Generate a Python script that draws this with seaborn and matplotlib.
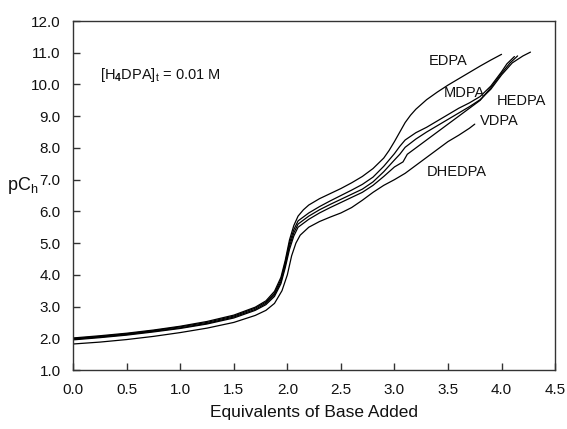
import matplotlib
matplotlib.use("Agg")
import matplotlib.pyplot as plt
import seaborn as sns
import pandas as pd

sns.set_theme(style="white")
plt.rcParams['font.family'] = ['Liberation Sans', 'DejaVu Sans']
plt.rcParams['mathtext.fontset'] = 'custom'
plt.rcParams['mathtext.rm'] = 'Liberation Sans'
plt.rcParams['mathtext.it'] = 'Liberation Sans:italic'
plt.rcParams['mathtext.bf'] = 'Liberation Sans:bold'

low_x = [0, 0.25, 0.5, 0.75, 1.0, 1.25, 1.5, 1.7, 1.8, 1.88, 1.94, 1.98, 2.02, 2.06]

edpa_x = low_x + [2.1, 2.15, 2.2, 2.3, 2.4, 2.5, 2.6, 2.7, 2.8, 2.9, 2.95, 3.0, 3.05, 3.1, 3.15, 3.2, 3.3, 3.4, 3.5, 3.6, 3.7, 3.8, 3.9, 4.0]
edpa_y = [2.01, 2.08, 2.16, 2.26, 2.38, 2.53, 2.73, 2.98, 3.18, 3.48, 3.92, 4.45, 5.1, 5.55,
          5.85, 6.05, 6.2, 6.4, 6.56, 6.72, 6.9, 7.1, 7.35, 7.68, 7.92, 8.2, 8.5, 8.8, 9.03, 9.22, 9.52, 9.76, 9.98, 10.18, 10.38, 10.58, 10.77, 10.95]

mdpa_x = low_x + [2.1, 2.2, 2.3, 2.4, 2.5, 2.6, 2.7, 2.8, 2.9, 3.0, 3.05, 3.1, 3.2, 3.3, 3.4, 3.5, 3.6, 3.7, 3.8, 3.9, 4.0, 4.05, 4.12]
mdpa_y = [1.99, 2.06, 2.14, 2.24, 2.36, 2.5, 2.7, 2.95, 3.14, 3.42, 3.85, 4.38, 5.0, 5.42,
          5.7, 5.95, 6.15, 6.33, 6.5, 6.67, 6.85, 7.08, 7.42, 7.82, 8.05, 8.25, 8.48, 8.65, 8.85, 9.05, 9.25, 9.42, 9.62, 9.95, 10.4, 10.65, 10.88]

hedpa_x = low_x + [2.1, 2.2, 2.3, 2.4, 2.5, 2.6, 2.7, 2.8, 2.9, 3.0, 3.05, 3.1, 3.2, 3.3, 3.4, 3.5, 3.6, 3.7, 3.8, 3.9, 4.0, 4.1, 4.2, 4.27]
hedpa_y = [1.97, 2.04, 2.12, 2.22, 2.33, 2.47, 2.67, 2.91, 3.1, 3.37, 3.78, 4.3, 4.9, 5.32,
           5.6, 5.85, 6.05, 6.22, 6.38, 6.54, 6.7, 6.93, 7.25, 7.62, 7.8, 8.02, 8.28, 8.5, 8.7, 8.9, 9.1, 9.3, 9.52, 9.85, 10.3, 10.68, 10.9, 11.02]

vdpa_x = low_x + [2.1, 2.2, 2.3, 2.4, 2.5, 2.6, 2.7, 2.8, 2.9, 3.0, 3.08, 3.12, 3.2, 3.3, 3.4, 3.5, 3.6, 3.7, 3.8, 3.9, 4.0, 4.08, 4.15]
vdpa_y = [1.95, 2.02, 2.1, 2.2, 2.31, 2.45, 2.64, 2.88, 3.06, 3.32, 3.72, 4.22, 4.8, 5.22,
          5.5, 5.75, 5.95, 6.12, 6.28, 6.44, 6.6, 6.82, 7.1, 7.4, 7.56, 7.8, 8.0, 8.25, 8.5, 8.75, 9.0, 9.25, 9.5, 9.9, 10.35, 10.68, 10.9]

dhedpa_x = [0, 0.25, 0.5, 0.75, 1.0, 1.25, 1.5, 1.7, 1.8, 1.88, 1.95, 2.0, 2.04, 2.08, 2.12, 2.2, 2.3, 2.4, 2.5, 2.6, 2.7, 2.8, 2.9, 3.0, 3.1, 3.2, 3.3, 3.4, 3.5, 3.6, 3.7, 3.75]
dhedpa_y = [1.82, 1.88, 1.96, 2.06, 2.18, 2.32, 2.5, 2.72, 2.88, 3.1, 3.5, 4.0, 4.6, 5.0, 5.25, 5.5, 5.68, 5.82, 5.95, 6.12, 6.35, 6.6, 6.82, 7.0, 7.2, 7.45, 7.7, 7.95, 8.2, 8.4, 8.62, 8.75]

series = {
    "EDPA": (edpa_x, edpa_y),
    "MDPA": (mdpa_x, mdpa_y),
    "HEDPA": (hedpa_x, hedpa_y),
    "VDPA": (vdpa_x, vdpa_y),
    "DHEDPA": (dhedpa_x, dhedpa_y),
}

labels = ["EDPA", "MDPA", "HEDPA", "VDPA", "DHEDPA"]
label_x = [3.5, 3.65, 4.19, 3.98, 3.58]
label_y = [10.74, 9.73, 9.48, 8.85, 7.24]

x_ticks = [0.0, 0.5, 1.0, 1.5, 2.0, 2.5, 3.0, 3.5, 4.0, 4.5]
y_ticks = [1.0, 2.0, 3.0, 4.0, 5.0, 6.0, 7.0, 8.0, 9.0, 10.0, 11.0, 12.0]

fig = plt.figure(figsize=(5.67, 4.29), dpi=100)
ax = fig.add_axes([0.129, 0.1375, 0.85, 0.8135])

for name, (xs, ys) in series.items():
    df = pd.DataFrame({"x": xs, "y": ys})
    sns.lineplot(data=df, x="x", y="y", ax=ax, color="black", lw=0.9, sort=False, estimator=None)

for t, lx, ly in zip(labels, label_x, label_y):
    ax.text(lx, ly, t, ha="center", va="center", fontsize=10.5, color="#111111")

ax.text(0.25, 10.3, r"[H$_\mathbf{4}$DPA]$_\mathrm{t}$ = 0.01 M", ha="left", va="center", fontsize=10.5, color="#111111")

ax.set_xlim(0, 4.5)
ax.set_ylim(1, 12)
ax.set_xticks(x_ticks)
ax.set_xticklabels([f"{v:.1f}" for v in x_ticks])
ax.set_yticks(y_ticks)
ax.set_yticklabels([f"{v:.1f}" for v in y_ticks])
ax.tick_params(direction="in", length=5, width=1, color="#333333", labelsize=11, labelcolor="#111111", bottom=True, left=True, pad=9)
for s in ax.spines.values():
    s.set_color("#333333")
    s.set_linewidth(1.0)
ax.set_xlabel("Equivalents of Base Added", fontsize=12.5, color="#111111", labelpad=6)
ax.set_ylabel("")
ax.text(-0.105, 0.53, r"pC$_\mathrm{h}$", transform=ax.transAxes, ha="center", va="center", fontsize=13, color="#111111")

fig.savefig("out.png", dpi=100)
